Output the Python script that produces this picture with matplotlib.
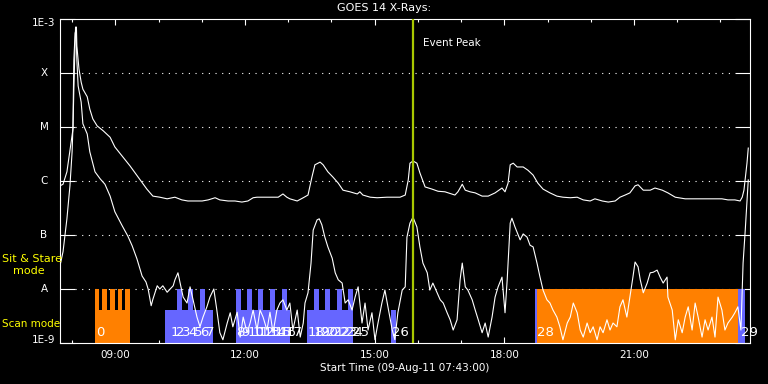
import matplotlib
matplotlib.use("Agg")
import matplotlib.pyplot as plt
from matplotlib.ticker import FixedLocator, NullFormatter

# GOES 14 long channel (1-8 A): hours after 07:43, log10 flux (W/m^2)
long_chan = [
    (0.00, -6.09), (0.07, -6.06), (0.16, -5.83), (0.23, -5.43), (0.30, -5.04), (0.32, -4.31), (0.35, -3.39),
    (0.36, -3.15), (0.38, -3.15), (0.39, -3.50), (0.44, -3.93), (0.49, -4.17), (0.53, -4.30), (0.63, -4.44),
    (0.69, -4.67), (0.76, -4.85), (0.86, -4.98), (1.00, -5.07), (1.16, -5.19), (1.27, -5.37), (1.44, -5.54),
    (1.62, -5.72), (1.81, -5.93), (2.01, -6.15), (2.15, -6.28), (2.31, -6.30), (2.48, -6.33), (2.66, -6.30),
    (2.82, -6.35), (2.96, -6.37), (3.13, -6.37), (3.29, -6.37), (3.43, -6.35), (3.59, -6.31), (3.70, -6.35),
    (3.89, -6.37), (4.05, -6.37), (4.21, -6.39), (4.35, -6.37), (4.47, -6.31), (4.56, -6.30), (4.75, -6.30),
    (4.91, -6.30), (5.05, -6.30), (5.16, -6.24), (5.25, -6.30), (5.32, -6.33), (5.49, -6.37), (5.63, -6.31),
    (5.74, -6.26), (5.83, -5.93), (5.90, -5.70), (6.02, -5.65), (6.09, -5.70), (6.20, -5.83), (6.32, -5.93),
    (6.44, -6.04), (6.55, -6.17), (6.71, -6.20), (6.88, -6.24), (6.94, -6.20), (7.01, -6.26), (7.18, -6.30),
    (7.34, -6.31), (7.57, -6.30), (7.71, -6.30), (7.87, -6.30), (7.99, -6.26), (8.06, -5.98), (8.10, -5.67),
    (8.17, -5.63), (8.26, -5.67), (8.33, -5.85), (8.45, -6.11), (8.61, -6.15), (8.75, -6.19), (8.91, -6.20),
    (9.14, -6.26), (9.21, -6.20), (9.31, -6.06), (9.38, -6.17), (9.49, -6.20), (9.61, -6.22), (9.77, -6.28),
    (9.91, -6.28), (10.07, -6.22), (10.23, -6.13), (10.30, -6.20), (10.37, -6.04), (10.42, -5.70), (10.49, -5.67),
    (10.58, -5.74), (10.65, -5.74), (10.72, -5.74), (10.83, -5.80), (10.95, -5.89), (11.06, -6.04), (11.18, -6.15),
    (11.34, -6.22), (11.50, -6.28), (11.64, -6.30), (11.81, -6.31), (11.97, -6.30), (12.11, -6.35), (12.27, -6.37),
    (12.38, -6.33), (12.55, -6.37), (12.69, -6.39), (12.85, -6.37), (12.96, -6.30), (13.08, -6.26), (13.19, -6.22),
    (13.31, -6.09), (13.38, -6.07), (13.50, -6.17), (13.66, -6.17), (13.77, -6.13), (13.94, -6.17), (14.07, -6.22),
    (14.24, -6.30), (14.47, -6.33), (14.70, -6.33), (15.00, -6.33), (15.32, -6.33), (15.46, -6.35), (15.62, -6.35),
    (15.74, -6.37), (15.79, -6.30), (15.83, -6.17), (15.90, -5.67), (15.93, -5.39),
]

# short channel (0.5-4 A)
short_chan = [
    (0.00, -7.57), (0.07, -7.31), (0.16, -6.70), (0.23, -6.09), (0.28, -5.46), (0.30, -4.98), (0.32, -3.76),
    (0.35, -3.26), (0.37, -3.20), (0.39, -3.76), (0.42, -4.24), (0.49, -4.54), (0.53, -4.94), (0.63, -5.13),
    (0.69, -5.46), (0.81, -5.83), (0.93, -5.96), (1.04, -6.06), (1.16, -6.28), (1.27, -6.57), (1.44, -6.83),
    (1.57, -7.02), (1.67, -7.20), (1.78, -7.44), (1.90, -7.76), (1.99, -7.87), (2.04, -8.00), (2.11, -8.31),
    (2.15, -8.19), (2.25, -7.94), (2.31, -8.00), (2.38, -7.94), (2.48, -8.06), (2.55, -8.00), (2.62, -7.94),
    (2.66, -7.83), (2.73, -7.70), (2.78, -7.89), (2.85, -8.15), (2.94, -8.26), (3.01, -7.96), (3.08, -8.20),
    (3.17, -8.52), (3.24, -8.70), (3.31, -8.52), (3.40, -8.33), (3.47, -8.15), (3.56, -8.00), (3.63, -8.39),
    (3.70, -8.81), (3.77, -8.94), (3.87, -8.63), (3.94, -8.44), (4.00, -8.70), (4.10, -8.43), (4.17, -8.89),
    (4.24, -8.52), (4.33, -8.81), (4.40, -8.63), (4.47, -8.39), (4.56, -8.76), (4.63, -8.39), (4.70, -8.52),
    (4.79, -8.76), (4.86, -8.43), (4.93, -8.81), (5.02, -8.39), (5.09, -8.26), (5.16, -8.20), (5.25, -8.39),
    (5.32, -8.26), (5.39, -8.76), (5.49, -8.39), (5.56, -8.89), (5.63, -8.63), (5.67, -8.26), (5.74, -8.07),
    (5.81, -7.52), (5.86, -6.91), (5.95, -6.72), (6.00, -6.70), (6.06, -6.81), (6.13, -7.04), (6.20, -7.22),
    (6.30, -7.43), (6.37, -7.70), (6.44, -7.83), (6.53, -7.89), (6.60, -8.26), (6.67, -8.20), (6.76, -8.39),
    (6.83, -8.15), (6.90, -7.96), (6.99, -8.63), (7.06, -8.26), (7.13, -8.76), (7.22, -8.44), (7.29, -8.94),
    (7.36, -8.63), (7.45, -8.26), (7.52, -8.02), (7.59, -8.33), (7.69, -8.76), (7.75, -8.94), (7.82, -8.44),
    (7.92, -8.02), (7.99, -7.96), (8.03, -7.04), (8.10, -6.78), (8.17, -6.67), (8.26, -6.85), (8.33, -7.22),
    (8.40, -7.52), (8.50, -7.70), (8.56, -8.02), (8.63, -7.89), (8.73, -8.07), (8.80, -8.20), (8.87, -8.26),
    (8.96, -8.44), (9.03, -8.57), (9.10, -8.76), (9.19, -8.57), (9.26, -7.83), (9.31, -7.52), (9.38, -7.96),
    (9.44, -8.02), (9.54, -8.20), (9.61, -8.39), (9.68, -8.57), (9.77, -8.81), (9.84, -8.63), (9.91, -8.89),
    (10.00, -8.52), (10.07, -8.15), (10.14, -7.96), (10.23, -7.78), (10.30, -8.44), (10.35, -7.83), (10.42, -6.78),
    (10.46, -6.69), (10.53, -6.85), (10.65, -7.09), (10.72, -6.98), (10.81, -7.04), (10.88, -7.19), (10.95, -7.22),
    (11.04, -7.52), (11.11, -7.78), (11.18, -8.02), (11.27, -8.20), (11.34, -8.26), (11.41, -8.39), (11.50, -8.52),
    (11.57, -8.70), (11.64, -8.94), (11.74, -8.63), (11.81, -8.52), (11.88, -8.26), (11.97, -8.44), (12.04, -8.76),
    (12.11, -8.89), (12.20, -8.63), (12.27, -8.81), (12.34, -8.70), (12.43, -8.94), (12.50, -8.70), (12.57, -8.81),
    (12.66, -8.57), (12.73, -8.76), (12.80, -8.63), (12.89, -8.70), (12.96, -8.33), (13.03, -8.20), (13.12, -8.52),
    (13.19, -8.15), (13.26, -7.78), (13.31, -7.50), (13.38, -7.59), (13.43, -7.83), (13.50, -8.07), (13.59, -7.89),
    (13.66, -7.70), (13.73, -7.69), (13.82, -7.65), (13.89, -7.78), (13.96, -7.89), (14.05, -7.78), (14.07, -8.15),
    (14.17, -8.39), (14.24, -8.94), (14.31, -8.57), (14.40, -8.81), (14.47, -8.52), (14.54, -8.33), (14.63, -8.76),
    (14.70, -8.26), (14.77, -8.52), (14.86, -8.89), (14.93, -8.57), (15.00, -8.76), (15.09, -8.52), (15.16, -8.89),
    (15.23, -8.15), (15.32, -8.39), (15.39, -8.76), (15.46, -8.63), (15.56, -8.52), (15.62, -8.44), (15.69, -8.33),
    (15.76, -8.76), (15.81, -7.52), (15.86, -6.91), (15.93, -5.98),
]

# observation bars (hours after 07:43)
bar_start = [0.81, 0.81, 0.97, 1.16, 1.34, 1.50,
             2.43, 2.71, 2.96, 3.24,
             4.07, 4.07, 4.33, 4.58, 4.86, 5.14,
             5.72, 5.88, 6.13, 6.41, 6.67,
             7.66, 11.00, 11.04, 15.69]
bar_end = [1.62, 0.90, 1.09, 1.27, 1.44, 1.62,
           3.54, 2.82, 3.08, 3.36,
           5.32, 4.19, 4.44, 4.70, 4.98, 5.25,
           6.78, 6.00, 6.25, 6.53, 6.78,
           7.78, 11.04, 15.69, 15.86]
bar_top = [4e-9, 1e-8, 1e-8, 1e-8, 1e-8, 1e-8,
           4e-9, 1e-8, 1e-8, 1e-8,
           4e-9, 1e-8, 1e-8, 1e-8, 1e-8, 1e-8,
           4e-9, 1e-8, 1e-8, 1e-8, 1e-8,
           4e-9, 1e-8, 1e-8, 1e-8]
bar_kind = ["o"] * 6 + ["b"] * 16 + ["b", "o", "b"]

obs_num = ["0", "1", "2", "3", "4", "5", "6", "7",
           "8", "9", "10", "11", "12", "13", "14", "15", "16", "17",
           "18", "19", "20", "21", "22", "23", "24", "25", "26", "28", "29"]
obs_t = [0.83, 2.55, 2.69, 2.82, 2.96, 3.10, 3.24, 3.38,
         4.07, 4.20, 4.33, 4.46, 4.58, 4.71, 4.84, 4.97, 5.09, 5.22,
         5.74, 5.88, 6.04, 6.18, 6.32, 6.48, 6.62, 6.76, 7.69, 11.04, 15.76]

levels = [1e-9, 1e-8, 1e-7, 1e-6, 1e-5, 1e-4, 1e-3]
level_names = ["1E-9", "A", "B", "C", "M", "X", "1E-3"]

start_hour = 7 + 43 / 60
t_end = 15.97
event_peak = 8.17

fs = 7.5
plt.rcParams["font.family"] = "DejaVu Sans"

fig = plt.figure(figsize=(7.68, 3.84), dpi=100, facecolor="black")
ax = fig.add_axes([60 / 768, 1 - 343 / 384, 690 / 768, 324 / 384])
ax.set_facecolor("black")
ax.set_yscale("log")
ax.set_xlim(0, t_end)
ax.set_ylim(1e-9, 1e-3)

# dotted level lines
for lv in levels[1:-1]:
    ax.axhline(lv, xmin=0.022, xmax=0.978, color="white", lw=0.8,
               linestyle=(0, (1, 5)), zorder=1)

cols = {"o": "#ff8000", "b": "#6666ff"}
for s, e, top, k in zip(bar_start, bar_end, bar_top, bar_kind):
    ax.bar(s, top - 1e-9, width=e - s, bottom=1e-9, align="edge",
           color=cols[k], linewidth=0, zorder=2)

# observation numbers (they pile up like in the original)
for lab, t in zip(obs_num, obs_t):
    ax.text(t, 1.55e-9, lab, color="white", fontsize=9.5, ha="left", va="center", zorder=3)

lt, lf = zip(*long_chan)
ax.plot(lt, [10 ** v for v in lf], color="white", lw=0.8, zorder=4)
st, sf = zip(*short_chan)
ax.plot(st, [10 ** v for v in sf], color="white", lw=0.8, zorder=4)

ax.axvline(event_peak, color="#a8c800", lw=1.6, zorder=5)
ax.text(event_peak + 0.23, 10 ** -3.44, "Event Peak", color="white", fontsize=fs,
        ha="left", va="center")

for sp in ax.spines.values():
    sp.set_color("white")
    sp.set_linewidth(0.8)

# x ticks every hour, labels every 3 hours
hours = list(range(8, 24))
ax.xaxis.set_major_locator(FixedLocator([h - start_hour for h in hours if h % 3 == 0]))
ax.xaxis.set_minor_locator(FixedLocator([h - start_hour for h in hours if h % 3 != 0]))
ax.set_xticklabels(["%02d:00" % h for h in hours if h % 3 == 0])
ax.xaxis.set_minor_formatter(NullFormatter())
ax.tick_params(axis="x", which="major", direction="in", length=4.3, width=0.8,
               colors="white", top=True, labelsize=fs, pad=5)
ax.tick_params(axis="x", which="minor", direction="in", length=2.5, width=0.8,
               colors="white", top=True)

ax.set_yticks(levels)
ax.set_yticklabels([])
ax.yaxis.set_minor_locator(FixedLocator([]))
ax.tick_params(axis="y", which="major", direction="in", length=10.8, width=0.8,
               colors="white", right=True)
ytr = ax.get_yaxis_transform()
offs = [-0.05, 0, 0, 0, 0, 0, 0.07]
for lv, name, o in zip(levels, level_names, offs):
    ax.text(-16 / 690, lv * 10 ** (-o), name, transform=ytr, color="white", fontsize=fs,
            ha="center", va="center", clip_on=False)

fig.text(2 / 768, 1 - 259 / 384, "Sit & Stare", color="yellow", fontsize=8, ha="left", va="center")
fig.text(13 / 768, 1 - 271 / 384, "mode", color="yellow", fontsize=8, ha="left", va="center")
fig.text(2 / 768, 1 - 324 / 384, "Scan mode", color="yellow", fontsize=fs, ha="left", va="center")

fig.text(0.5, 1 - 8 / 384, "GOES 14 X-Rays:", color="white", fontsize=8, ha="center", va="center")
fig.text(405 / 768, 1 - 368 / 384, "Start Time (09-Aug-11 07:43:00)", color="white",
         fontsize=fs, ha="center", va="center")

fig.savefig("out.png", dpi=100, facecolor="black")
